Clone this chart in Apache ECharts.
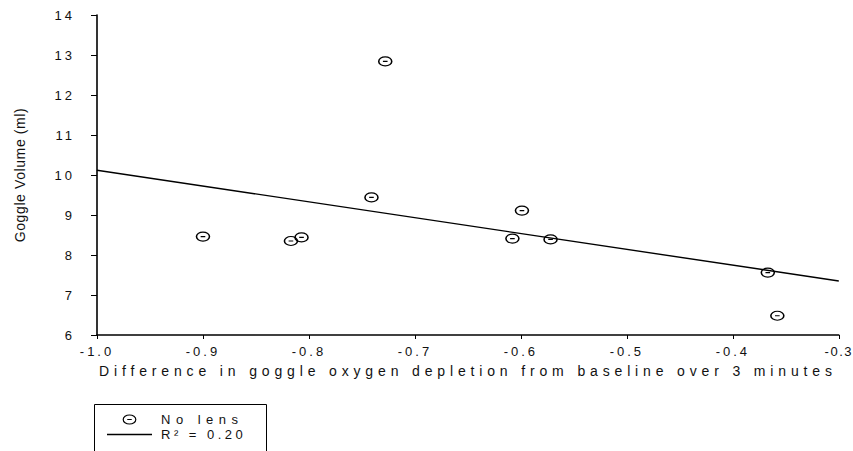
<!DOCTYPE html>
<html><head><meta charset="utf-8">
<script src="https://cdn.jsdelivr.net/npm/echarts@6/dist/echarts.min.js"></script>
<style>html,body{margin:0;padding:0;background:#fff}#c{width:853px;height:451px}</style>
</head><body><div id="c"></div>
<script>
const xValues = [-0.900, -0.817, -0.807, -0.728, -0.741, -0.599, -0.608, -0.572, -0.367, -0.358];
const yValues = [8.46, 8.35, 8.44, 12.84, 9.44, 9.11, 8.41, 8.39, 7.56, 6.48];
const fitX = [-1.0, -0.3];
const fitY = [10.12, 7.35];
const seriesNames = ['No lens', 'R\u00B2 = 0.20'];
const xTitle = 'Difference in goggle oxygen depletion from baseline over 3 minutes';
const yTitle = 'Goggle Volume (ml)';

const FONT = 'Arial, "Liberation Sans", sans-serif';
const marker = 'path://M0,5 A7,5 0 1,1 14,5 A7,5 0 1,1 0,5 Z M4.5,5 L9.5,5';
const lineIcon = 'path://M0,0 L45,0 L45,1.4 L0,1.4 Z';

const chart = echarts.init(document.getElementById('c'), null, {renderer: 'svg'});
chart.setOption({
  animation: false,
  backgroundColor: '#fff',
  grid: {left: 97, right: 14, top: 15, bottom: 116},
  xAxis: {
    type: 'value', min: -1.0, max: -0.3, interval: 0.1,
    name: xTitle, nameLocation: 'middle', nameGap: 29,
    nameTextStyle: {fontFamily: FONT, fontSize: 14, color: '#111'},
    axisLine: {lineStyle: {color: '#000', width: 1.6}},
    axisTick: {show: true, length: 4, lineStyle: {color: '#000', width: 1}},
    axisLabel: {margin: 10, fontFamily: FONT, fontSize: 13, color: '#111',
      formatter: v => v.toFixed(1)},
    splitLine: {show: false}
  },
  yAxis: {
    type: 'value', min: 6, max: 14, interval: 1,
    name: yTitle, nameLocation: 'middle', nameGap: 70, nameRotate: 90,
    nameTextStyle: {fontFamily: FONT, fontSize: 14, color: '#111'},
    axisLine: {show: true, lineStyle: {color: '#000', width: 1.6}},
    axisTick: {show: true, length: 6, lineStyle: {color: '#000', width: 1}},
    axisLabel: {margin: 22, fontFamily: FONT, fontSize: 13, color: '#111'},
    splitLine: {show: false}
  },
  graphic: [{
    type: 'rect', left: 94, top: 404, z: 0,
    shape: {width: 172, height: 70},
    style: {fill: '#fff', stroke: '#000', lineWidth: 1}
  }],
  legend: {
    orient: 'vertical', left: 107, top: 413,
    padding: 0,
    itemWidth: 45, itemHeight: 9, itemGap: 2,
    textStyle: {fontFamily: FONT, fontSize: 13, color: '#111', lineHeight: 13, padding: [0, 0, 0, 4]},
    data: [
      {name: seriesNames[0], icon: marker, itemStyle: {color: 'transparent', borderColor: '#000', borderWidth: 1.2}},
      {name: seriesNames[1], icon: lineIcon, itemStyle: {color: '#000', borderWidth: 0}}
    ],
    z: 5
  },
  series: [
    {
      name: seriesNames[0], type: 'scatter',
      data: xValues.map((x, i) => [x, yValues[i]]),
      symbol: marker, symbolSize: [13, 9],
      itemStyle: {color: 'transparent', borderColor: '#000', borderWidth: 1.3, opacity: 1},
      z: 3
    },
    {
      name: seriesNames[1], type: 'line',
      data: fitX.map((x, i) => [x, fitY[i]]),
      symbol: 'none', showSymbol: false,
      lineStyle: {color: '#000', width: 1.4},
      itemStyle: {color: '#000'},
      z: 2
    }
  ]
});

function spaceText() {
  document.querySelectorAll('#c svg text').forEach(t => {
    const txt = t.textContent;
    if (txt === yTitle) { t.style.letterSpacing = '0.6px'; return; }
    if (txt === xTitle) { t.style.letterSpacing = '4.85px'; return; }
    if (txt === seriesNames[0]) { t.style.letterSpacing = '5.5px'; return; }
    if (txt === seriesNames[1]) { t.style.letterSpacing = '3.5px'; return; }
    if (txt === '-0.3') { t.style.letterSpacing = '1.5px'; return; }
    t.style.letterSpacing = '3px';
  });
}
spaceText();
chart.on('finished', spaceText);
</script>
</body></html>
